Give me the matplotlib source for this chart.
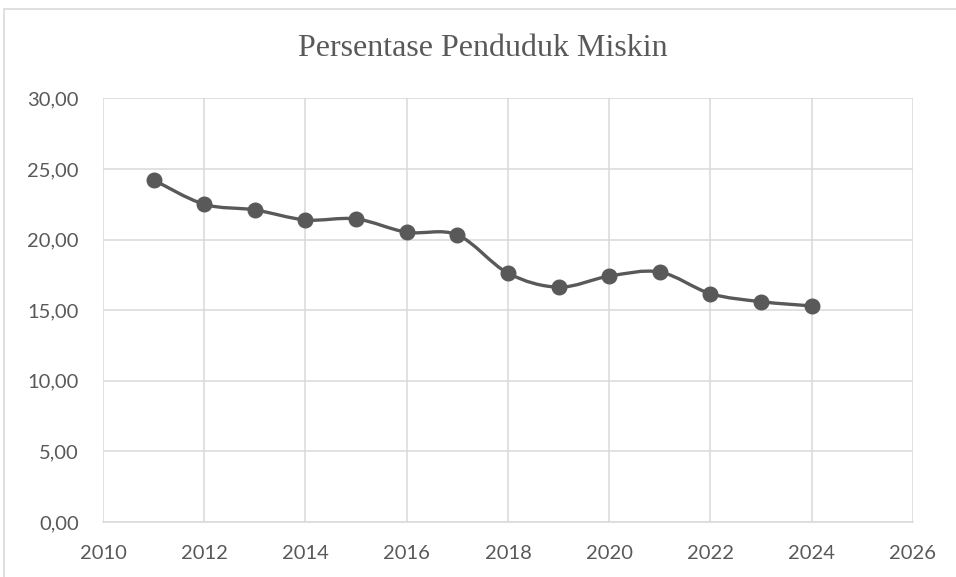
import numpy as np
import matplotlib.pyplot as plt
from matplotlib.path import Path
from matplotlib.patches import PathPatch, Rectangle
from matplotlib.ticker import FuncFormatter

# data (persentase penduduk miskin per tahun)
tahun = [2011, 2012, 2013, 2014, 2015, 2016, 2017, 2018, 2019, 2020, 2021, 2022, 2023, 2024]
persen = [24.22, 22.50, 22.10, 21.39, 21.46, 20.52, 20.33, 17.62, 16.63, 17.41, 17.70, 16.17, 15.60, 15.30]
judul = 'Persentase Penduduk Miskin'
x_ticks = list(range(2010, 2027, 2))
y_ticks = [0, 5, 10, 15, 20, 25, 30]

abu = '#595959'
grid_col = '#d9d9d9'

fig = plt.figure(figsize=(9.56, 5.77), dpi=100)
ax = fig.add_axes([0.1077, 0.0953, 0.955 - 0.1077, 0.8296 - 0.0953])

# garis halus (bezier ala Excel)
x = np.array(tahun, dtype=float)
y = np.array(persen, dtype=float)
n = len(x)
verts = [(x[0], y[0])]
codes = [Path.MOVETO]
for i in range(n - 1):
    x0, y0 = (x[i - 1], y[i - 1]) if i > 0 else (x[i], y[i])
    x3, y3 = (x[i + 2], y[i + 2]) if i + 2 < n else (x[i + 1], y[i + 1])
    c1 = (x[i] + (x[i + 1] - x0) / 6, y[i] + (y[i + 1] - y0) / 6)
    c2 = (x[i + 1] - (x3 - x[i]) / 6, y[i + 1] - (y3 - y[i]) / 6)
    verts += [c1, c2, (x[i + 1], y[i + 1])]
    codes += [Path.CURVE4] * 3
ax.add_patch(PathPatch(Path(verts, codes), facecolor='none', edgecolor=abu,
                       lw=2.4, zorder=3, capstyle='round'))
ax.plot(tahun, persen, linestyle='none', marker='o', markersize=10.5,
        color=abu, zorder=4)

ax.set_xlim(2010, 2026)
ax.set_ylim(0, 30)
ax.set_xticks(x_ticks)
ax.set_yticks(y_ticks)
ax.yaxis.set_major_formatter(FuncFormatter(lambda v, p: f'{v:.2f}'.replace('.', ',')))
ax.grid(True, color=grid_col, lw=1.1)
ax.set_axisbelow(True)
for s in ['top', 'right', 'left']:
    ax.spines[s].set_visible(False)
ax.spines['bottom'].set_color(grid_col)
ax.spines['bottom'].set_linewidth(1.1)
ax.tick_params(length=0, labelsize=14.5, labelcolor=abu)
ax.tick_params(axis='x', pad=16.5)
ax.tick_params(axis='y', pad=17.5)
for lab in ax.get_xticklabels() + ax.get_yticklabels():
    lab.set_family(['Lato', 'DejaVu Sans'])

fig.text(0.505, 1 - 49 / 577, judul, ha='center', va='center',
         fontsize=23, color=abu, family='Liberation Serif')

# bingkai area grafik
fig.add_artist(Rectangle((4 / 956, -0.05), 1.1, 1 - 9 / 577 + 0.05,
                         transform=fig.transFigure, fill=False,
                         edgecolor=grid_col, lw=1.2))

fig.savefig('out.png', dpi=100)
